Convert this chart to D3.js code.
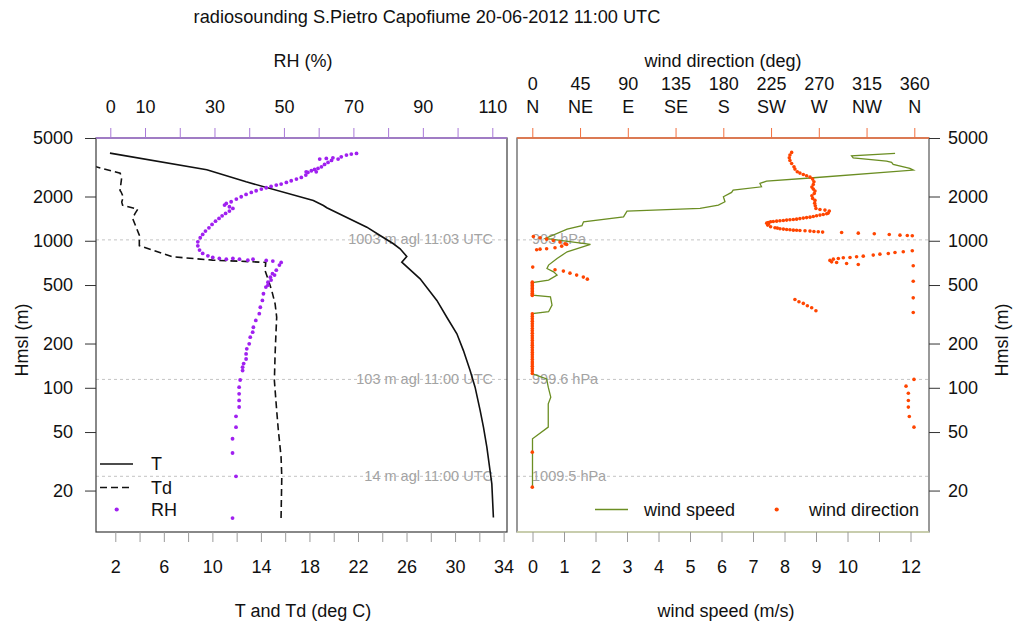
<!DOCTYPE html>
<html>
<head>
<meta charset="utf-8">
<script src="https://cdn.jsdelivr.net/npm/d3@7"></script>
<style>
  body { margin: 0; background: #ffffff; }
  svg text { font-family: "Liberation Sans", Arial, Helvetica, sans-serif; }
</style>
</head>
<body>
<svg id="chart" width="1016" height="626"></svg>
<script>
// ---- sounding profiles: [height above mean sea level (m), value] ----
const temperature = [
  [13.1, 33.16], [22.2, 33.03], [39.5, 32.62], [54, 32.34], [70, 32.07], [101, 31.65],
  [131, 31.24], [179, 30.69], [233, 30.15], [302, 29.32], [393, 28.5], [551, 27.12],
  [715, 25.61], [782, 26.02], [882, 25.47], [954, 24.92], [1086, 23.82], [1237, 22.73],
  [1677, 19.43], [1738, 19.15], [1879, 18.32], [2518, 12.78], [3041, 9.54], [3945, 1.56]
];

const dewPoint = [
  [13, 15.66], [24.7, 15.72], [34, 15.66], [51, 15.44], [70, 15.30], [112, 15.11],
  [170, 15.17], [245, 15.25], [302, 15.30], [372, 15.17], [459, 14.89], [537, 14.62],
  [628, 14.34], [712, 14.4], [720, 13.3], [738, 10.03], [778, 6.73], [925, 3.98],
  [1092, 3.98], [1418, 3.43], [1528, 3.62], [1640, 3.85], [1746, 2.6], [1832, 2.53],
  [1982, 2.66], [2153, 2.47], [2198, 2.39], [2710, 2.53], [2767, 2.47], [2884, 2.40],
  [3185, 0.41], [3251, 0.33]
];

const relHumidity = [
  [13, 35.2], [25, 36.2], [36, 35.2], [45, 35.2], [54, 36.2], [64, 36.2], [74, 37.1],
  [82, 37.1], [91, 37.1], [101, 37.1], [113, 37.4], [131, 38.1], [138, 38.1], [146, 38.4],
  [157, 39.1], [170, 39.1], [184, 39.3], [199, 40.0], [221, 40.3], [239, 41.0], [258, 41.2],
  [287, 41.9], [319, 42.9], [353, 43.2], [393, 43.8], [436, 44.1], [484, 44.8], [499, 45.4],
  [523, 45.4], [540, 46.3], [565, 46.1], [584, 47.3], [597, 46.7], [631, 47.8], [683, 48.7],
  [712, 49.2], [727, 46.8], [735, 44.9], [738, 39.6], [750, 41.1], [750, 37.2], [758, 35.3],
  [750, 33.4], [758, 31.4], [770, 29.5], [790, 28.1], [820, 26.6], [864, 25.7], [924, 25.2],
  [984, 25.2], [1048, 25.9], [1104, 26.6], [1163, 27.4], [1225, 28.4], [1291, 29.3],
  [1360, 30.3], [1418, 31.3], [1479, 32.2], [1534, 33.2], [1591, 34.3], [1659, 35.3],
  [1703, 34.3], [1748, 32.9], [1794, 33.4], [1842, 34.8], [1920, 36.3], [1992, 37.7],
  [2066, 39.1], [2132, 40.6], [2188, 42.0], [2246, 43.5], [2294, 44.9], [2342, 46.3],
  [2392, 47.8], [2430, 49.2], [2494, 50.7], [2559, 52.1], [2627, 53.6], [2696, 55.0],
  [2797, 56.3], [2916, 56.9], [2946, 56.4], [2946, 59.3], [2993, 57.9], [3056, 58.8],
  [3104, 59.8], [3186, 60.8], [3305, 61.7], [3410, 62.7], [3518, 63.7], [3593, 60.3],
  [3631, 62.2], [3668, 64.1], [3593, 65.6], [3726, 66.5], [3825, 68.0], [3885, 69.4],
  [3926, 70.9]
];

const windSpeed = [
  [21.1, 0], [45, 0], [54, 0.50], [77.8, 0.50], [86.3, 0.58], [101, 0.50], [115, 0.45],
  [124.5, 0], [320, 0], [329, 0.51], [365, 0.62], [416, 0.57], [427, 0], [520, 0],
  [540, 0.51], [584, 0.78], [615, 0.67], [648, 0.46], [683, 0.51], [758, 0.78],
  [841, 1.10], [944, 1.84], [1037, 0.41], [1200, 1.10], [1265, 1.57], [1346, 1.62],
  [1456, 2.89], [1591, 3.00], [1659, 5.32], [1748, 5.90], [1842, 6.11], [1992, 6.06],
  [2132, 6.32], [2211, 6.37], [2329, 7.27], [2454, 7.22], [2546, 7.43], [2682, 8.92],
  [3024, 12.09], [3104, 11.98], [3305, 11.45], [3410, 11.40], [3482, 11.24],
  [3668, 10.18], [3785, 10.13], [3926, 11.51]
];

const windDirection = [
  [3990, 244.4], [3827, 242.8], [3668, 242.2], [3518, 242.8], [3357, 244.4], [3186, 246.6],
  [3072, 247.5], [2946, 249.7], [2885, 252.2], [2826, 255.4], [2767, 258.5], [2710, 261.7],
  [2627, 264.2], [2519, 265.4], [2416, 264.8], [2317, 263.5], [2246, 264.8], [2176, 266.4],
  [2098, 265.7], [2023, 263.5], [1941, 264.2], [1881, 266.4], [1803, 266.1], [1729, 266.7],
  [1659, 267.3], [1633, 271.1], [1616, 275.8], [1591, 279.9], [1542, 278.9], [1526, 277.4],
  [1510, 274.2], [1495, 271.1], [1479, 267.9], [1463, 264.8], [1448, 261.7], [1437, 258.5],
  [1426, 255.4], [1415, 252.2], [1403, 249.1], [1396, 246.0], [1389, 242.8], [1382, 239.7],
  [1375, 236.6], [1367, 233.4], [1360, 230.3], [1353, 227.1], [1346, 224.6], [1332, 222.4],
  [1318, 220.9], [1298, 222.7], [1278, 221.8], [1245, 224.6], [1225, 228.7], [1219, 230.9],
  [1206, 233.4], [1200, 236.6], [1194, 239.7], [1188, 242.8], [1181, 246.0], [1178, 249.1],
  [1175, 252.2], [1169, 257.0], [1163, 261.7], [1157, 265.4], [1151, 269.5], [1145, 273.6],
  [1139, 291.5], [1127, 307.2], [1116, 322.3], [1104, 336.4], [1092, 346.5], [1087, 353.4],
  [1081, 358.1],
  [1070, 1.0], [1047, 7.3], [1026, 13.5], [1005, 19.8], [979, 26.1], [953, 30.8], [943, 32.4],
  [919, 27.7], [896, 21.4], [882, 13.5], [877, 7.3], [868, 4.1],
  [855, 358.1], [841, 349.6], [833, 341.8], [820, 335.5], [811, 327.6], [799, 321.3],
  [786, 311.9], [778, 305.6], [770, 299.4], [766, 293.1], [758, 288.4], [750, 283.7],
  [735, 280.5], [719, 282.1], [712, 286.8], [701, 296.2], [690, 307.2],
  [676, 359.0], [662, 0.4],
  [635, 21.4], [622, 29.3], [602, 35.5], [584, 41.8], [566, 48.1], [548, 51.9],
  [531, 359.0], [523, 0], [510, 0], [497, 0], [485, 0], [473, 0], [462, 0], [451, 0],
  [440, 0], [430, 0], [424, 0],
  [409, 359.0], [399, 247.5], [385, 251.3], [375, 255.4], [361, 259.2], [350, 263.3],
  [334, 267.3], [325, 359.0],
  [318, 0], [306, 0], [295, 0], [284, 0], [273, 0], [263, 0], [253, 0], [244, 0], [235, 0],
  [226, 0], [218, 0], [210, 0], [202, 0], [195, 0], [188, 0], [181, 0], [174, 0], [168, 0],
  [162, 0], [156, 0], [150, 0], [145, 0], [140, 0], [135, 0], [130, 0], [125, 0],
  [114, 359.7], [102.6, 352.2], [91.9, 354.4], [82, 354.4], [73.9, 354.4], [63.8, 355.3],
  [54, 359.7], [36.5, 0], [21.1, 0]
];

// ---- reference levels of the launch ----
const stationElevation = 11;
const levelAgl = [14, 103, 1003];
const levelTime = ["11:00", "11:00", "11:03"];
const levelPressure = ["1009.5", "999.6", "903"];

// ---- axis ticks and labels ----
const heightTicks = [20, 50, 100, 200, 500, 1000, 2000, 5000];
const tempTicks = [2, 4, 6, 8, 10, 12, 14, 16, 18, 20, 22, 24, 26, 28, 30, 32, 34];
const tempLabels = [2, 6, 10, 14, 18, 22, 26, 30, 34];
const speedTicks = [0, 1, 2, 3, 4, 5, 6, 7, 8, 9, 10, 11, 12];
const speedLabels = [0, 1, 2, 3, 4, 5, 6, 7, 8, 9, 10, 12];
const rhTicks = [0, 10, 20, 30, 40, 50, 60, 70, 80, 90, 100, 110];
const rhLabels = [0, 10, 30, 50, 70, 90, 110];
const dirTicks = [0, 45, 90, 135, 180, 225, 270, 315, 360];
const dirNames = ["N", "NE", "E", "SE", "S", "SW", "W", "NW", "N"];

// ---- layout ----
const svg = d3.select("#chart");
const plotTop = 138, plotBottom = 532;
const left = { x0: 96, x1: 507 };
const right = { x0: 517, x1: 929 };

const COLORS = {
  purple: "#a020f0", purpleAxis: "#a878d8",
  orange: "#ff4500", orangeAxis: "#f2703e",
  olive: "#6b8e23", oliveAxis: "#d8dfb4",
  grid: "#c4c4c4", note: "#a3a3a3"
};

const y = d3.scaleLog().domain([10.45, 5000]).range([plotBottom, plotTop]);
const xT = d3.scaleLinear().domain([2, 34]).range([115.3, 503.6]);
const xRH = d3.scaleLinear().domain([0, 110]).range([110.3, 492.3]);
const xWS = d3.scaleLinear().domain([0, 12]).range([532.5, 910.5]);
const xWD = d3.scaleLinear().domain([0, 360]).range([532.3, 914.3]);

const defs = svg.append("defs");
[["clipL", left], ["clipR", right]].forEach(([id, p]) => {
  defs.append("clipPath").attr("id", id).append("rect")
    .attr("x", p.x0).attr("y", plotTop).attr("width", p.x1 - p.x0).attr("height", plotBottom - plotTop);
});

// ---- titles ----
svg.append("text").attr("x", 427).attr("y", 23).attr("text-anchor", "middle")
  .attr("font-size", 18.2).attr("fill", "#111")
  .text("radiosounding S.Pietro Capofiume 20-06-2012 11:00 UTC");
svg.append("text").attr("x", 303).attr("y", 67).attr("text-anchor", "middle")
  .attr("font-size", 18).attr("fill", "#111").text("RH (%)");
svg.append("text").attr("x", 723).attr("y", 67).attr("text-anchor", "middle")
  .attr("font-size", 18).attr("fill", "#111").text("wind direction (deg)");
svg.append("text").attr("x", 303).attr("y", 617).attr("text-anchor", "middle")
  .attr("font-size", 18).attr("fill", "#111").text("T and Td (deg C)");
svg.append("text").attr("x", 726).attr("y", 617).attr("text-anchor", "middle")
  .attr("font-size", 18).attr("fill", "#111").text("wind speed (m/s)");
svg.append("text").attr("transform", "translate(28,340) rotate(-90)").attr("text-anchor", "middle")
  .attr("font-size", 18).attr("fill", "#111").text("Hmsl (m)");
svg.append("text").attr("transform", "translate(1008,340) rotate(-90)").attr("text-anchor", "middle")
  .attr("font-size", 18).attr("fill", "#111").text("Hmsl (m)");

// ---- reference levels ----
const levels = levelAgl.map((h, i) => ({ h: h + stationElevation, agl: h, time: levelTime[i], p: levelPressure[i] }));
const refG = svg.append("g");
[left, right].forEach(p => {
  refG.selectAll(null).data(levels).enter().append("line")
    .attr("x1", p.x0).attr("x2", p.x1)
    .attr("y1", d => y(d.h)).attr("y2", d => y(d.h))
    .attr("stroke", COLORS.grid).attr("stroke-width", 1).attr("stroke-dasharray", "3,3");
});
refG.selectAll(null).data(levels).enter().append("text")
  .attr("x", left.x1 - 14).attr("y", d => y(d.h)).attr("dy", "0.3em")
  .attr("text-anchor", "end").attr("font-size", 14.5).attr("fill", COLORS.note)
  .text(d => `${d.agl} m agl ${d.time} UTC`);
refG.selectAll(null).data(levels).enter().append("text")
  .attr("x", 532).attr("y", d => y(d.h)).attr("dy", "0.3em")
  .attr("text-anchor", "start").attr("font-size", 14.5).attr("fill", COLORS.note)
  .text(d => `${d.p} hPa`);

// ---- left panel: temperature, dew point, relative humidity ----
const gL = svg.append("g").attr("clip-path", "url(#clipL)");
const tLine = d3.line().x(d => xT(d[1])).y(d => y(d[0]));
gL.append("path").datum(temperature).attr("d", tLine)
  .attr("fill", "none").attr("stroke", "#111").attr("stroke-width", 1.6);
gL.append("path").datum(dewPoint).attr("d", tLine)
  .attr("fill", "none").attr("stroke", "#111").attr("stroke-width", 1.6).attr("stroke-dasharray", "7,4");
gL.selectAll("circle.rh").data(relHumidity).enter().append("circle").attr("class", "rh")
  .attr("cx", d => xRH(d[1])).attr("cy", d => y(d[0])).attr("r", 1.9).attr("fill", COLORS.purple);

// ---- right panel: wind speed and direction ----
const gR = svg.append("g").attr("clip-path", "url(#clipR)");
gR.append("path").datum(windSpeed)
  .attr("d", d3.line().x(d => xWS(d[1])).y(d => y(d[0])))
  .attr("fill", "none").attr("stroke", COLORS.olive).attr("stroke-width", 1.3);
gR.selectAll("circle.wd").data(windDirection).enter().append("circle").attr("class", "wd")
  .attr("cx", d => xWD(d[1])).attr("cy", d => y(d[0])).attr("r", 1.8).attr("fill", COLORS.orange);

// ---- panel frames ----
function frame(p, sideColor) {
  svg.append("rect").attr("x", p.x0).attr("y", plotTop)
    .attr("width", p.x1 - p.x0).attr("height", plotBottom - plotTop)
    .attr("fill", "none").attr("stroke", sideColor).attr("stroke-width", 1.2);
}
frame(left, "#3a3a3a");
frame(right, "#555");
svg.append("line").attr("x1", left.x0).attr("x2", left.x1).attr("y1", plotTop).attr("y2", plotTop)
  .attr("stroke", COLORS.purpleAxis).attr("stroke-width", 1.4);
svg.append("line").attr("x1", right.x0).attr("x2", right.x1).attr("y1", plotTop).attr("y2", plotTop)
  .attr("stroke", COLORS.orangeAxis).attr("stroke-width", 1.4);
svg.append("line").attr("x1", right.x0).attr("x2", right.x1).attr("y1", plotBottom).attr("y2", plotBottom)
  .attr("stroke", COLORS.oliveAxis).attr("stroke-width", 1.4);

// ---- axes ----
function styleAxis(g, tickColor) {
  g.select(".domain").remove();
  g.selectAll(".tick line").attr("stroke", tickColor).attr("stroke-width", 1);
  g.selectAll(".tick text").attr("font-size", 18).attr("fill", "#111")
    .attr("font-family", "Liberation Sans, Arial, Helvetica, sans-serif");
}

svg.append("g").attr("transform", `translate(${left.x0},0)`)
  .call(d3.axisLeft(y).tickValues(heightTicks).tickFormat(d3.format("d"))
    .tickSize(11).tickPadding(12).tickSizeOuter(0))
  .call(g => styleAxis(g, "#333"));

svg.append("g").attr("transform", `translate(${right.x1},0)`)
  .call(d3.axisRight(y).tickValues(heightTicks).tickFormat(d3.format("d"))
    .tickSize(11).tickPadding(8).tickSizeOuter(0))
  .call(g => styleAxis(g, "#333"));

svg.append("g").attr("transform", `translate(0,${plotBottom})`)
  .call(d3.axisBottom(xT).tickValues(tempTicks)
    .tickFormat(d => tempLabels.includes(d) ? d : "")
    .tickSize(10).tickPadding(18).tickSizeOuter(0))
  .call(g => styleAxis(g, "#9a9a9a"));

svg.append("g").attr("transform", `translate(0,${plotBottom})`)
  .call(d3.axisBottom(xWS).tickValues(speedTicks)
    .tickFormat(d => speedLabels.includes(d) ? d : "")
    .tickSize(10).tickPadding(18).tickSizeOuter(0))
  .call(g => styleAxis(g, "#9a9a9a"));

svg.append("g").attr("transform", `translate(0,${plotTop})`)
  .call(d3.axisTop(xRH).tickValues(rhTicks)
    .tickFormat(d => rhLabels.includes(d) ? d : "")
    .tickSize(10).tickPadding(15).tickSizeOuter(0))
  .call(g => styleAxis(g, COLORS.purpleAxis));

const dirAxis = svg.append("g").attr("transform", `translate(0,${plotTop})`)
  .call(d3.axisTop(xWD).tickValues(dirTicks)
    .tickFormat((d, i) => dirNames[i])
    .tickSize(10).tickPadding(15).tickSizeOuter(0))
  .call(g => styleAxis(g, COLORS.orangeAxis));
dirAxis.selectAll(".tick").append("text")
  .attr("y", -48).attr("text-anchor", "middle").attr("font-size", 18).attr("fill", "#111")
  .text(d => d);

// ---- legends ----
const legL = svg.append("g");
legL.append("line").attr("x1", 100).attr("x2", 133).attr("y1", 464).attr("y2", 464)
  .attr("stroke", "#111").attr("stroke-width", 1.6);
legL.append("line").attr("x1", 100).attr("x2", 133).attr("y1", 487.5).attr("y2", 487.5)
  .attr("stroke", "#111").attr("stroke-width", 1.6).attr("stroke-dasharray", "7,4");
legL.append("circle").attr("cx", 116.7).attr("cy", 509.5).attr("r", 2.1).attr("fill", COLORS.purple);
[["T", 464], ["Td", 487.5], ["RH", 509.5]].forEach(([t, yy]) => {
  legL.append("text").attr("x", 151).attr("y", yy).attr("dy", "0.36em")
    .attr("font-size", 18).attr("fill", "#111").text(t);
});

const legR = svg.append("g");
legR.append("line").attr("x1", 595).attr("x2", 628).attr("y1", 509.5).attr("y2", 509.5)
  .attr("stroke", COLORS.olive).attr("stroke-width", 1.3);
legR.append("text").attr("x", 644).attr("y", 509.5).attr("dy", "0.36em")
  .attr("font-size", 18).attr("fill", "#111").text("wind speed");
legR.append("circle").attr("cx", 776.7).attr("cy", 509.5).attr("r", 2.1).attr("fill", COLORS.orange);
legR.append("text").attr("x", 809).attr("y", 509.5).attr("dy", "0.36em")
  .attr("font-size", 18).attr("fill", "#111").text("wind direction");
</script>
</body>
</html>
